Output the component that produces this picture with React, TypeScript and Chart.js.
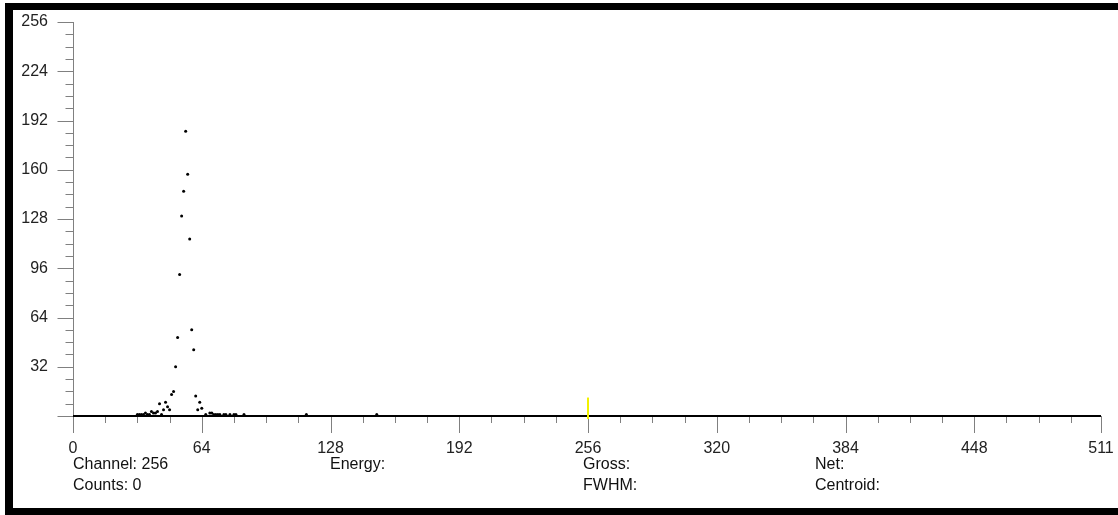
import React, { useEffect, useRef } from "react";
import { Chart, registerables } from "chart.js";
Chart.register(...registerables);

// Spectrum data (non-zero channels only)
const channels = [32, 33, 34, 35, 36, 37, 38, 39, 40, 41, 42, 43, 44, 45, 46, 47, 48, 49, 50, 51, 52, 53, 54, 55, 56, 57, 58, 59, 60, 61, 62, 63, 64, 66, 68, 69, 70, 71, 72, 73, 75, 76, 78, 80, 81, 85, 116, 151];
const counts = [1, 1, 1, 1, 2, 1, 1, 3, 2, 2, 3, 8, 1, 4, 9, 6, 4, 14, 16, 32, 51, 92, 130, 146, 185, 157, 115, 56, 43, 13, 4, 9, 5, 1, 2, 2, 1, 1, 1, 1, 1, 1, 1, 1, 1, 1, 1, 1];

const cursorChannel = 256;
const cursorSpan = [-2, 12];

const xLabelTicks = [0, 64, 128, 192, 256, 320, 384, 448, 511];
const xMinorTicks = [16, 32, 48, 80, 96, 112, 144, 160, 176, 208, 224, 240, 272, 288, 304, 336, 352, 368, 400, 416, 432, 464, 480, 496];
const yLabelTicks = [32, 64, 96, 128, 160, 192, 224, 256];
const yMajorTicks = [0, 32, 64, 96, 128, 160, 192, 224, 256];
const yMinorTicks = [8, 16, 24, 40, 48, 56, 72, 80, 88, 104, 112, 120, 136, 144, 152, 168, 176, 184, 200, 208, 216, 232, 240, 248];

const statusLeft = [
  { text: "Channel: 256", x: 73, y: 456 },
  { text: "Counts: 0", x: 73, y: 477 },
  { text: "Energy:", x: 330, y: 456 },
  { text: "Gross:", x: 583, y: 456 },
  { text: "FWHM:", x: 583, y: 477 },
  { text: "Net:", x: 815, y: 456 },
  { text: "Centroid:", x: 815, y: 477 },
];

const FONT = "'Liberation Sans', Arial, sans-serif";

const axesPlugin = {
  id: "customAxes",
  beforeDatasetsDraw(chart: any) {
    const { ctx, chartArea } = chart;
    const xs = chart.scales.x;
    const ys = chart.scales.y;
    ctx.save();
    ctx.strokeStyle = "#808080";
    ctx.lineWidth = 1;
    ctx.beginPath();
    const ax = Math.round(chartArea.left) + 0.5;
    ctx.moveTo(ax, ys.getPixelForValue(256));
    ctx.lineTo(ax, chartArea.bottom);
    for (const v of yMajorTicks) {
      const py = Math.round(ys.getPixelForValue(v)) + 0.5;
      ctx.moveTo(ax - 16, py);
      ctx.lineTo(ax, py);
    }
    for (const v of yMinorTicks) {
      const py = Math.round(ys.getPixelForValue(v)) + 0.5;
      ctx.moveTo(ax - 8, py);
      ctx.lineTo(ax, py);
    }
    const by = Math.round(chartArea.bottom);
    for (const v of xLabelTicks) {
      const px = Math.round(xs.getPixelForValue(v)) + 0.5;
      ctx.moveTo(px, by);
      ctx.lineTo(px, by + 17);
    }
    for (const v of xMinorTicks) {
      const px = Math.round(xs.getPixelForValue(v)) + 0.5;
      ctx.moveTo(px, by);
      ctx.lineTo(px, by + 7);
    }
    ctx.stroke();
    ctx.strokeStyle = "#000";
    ctx.lineWidth = 2;
    ctx.beginPath();
    ctx.moveTo(xs.getPixelForValue(0), by);
    ctx.lineTo(xs.getPixelForValue(511), by);
    ctx.stroke();
    ctx.restore();
  },
};

const zeroOverflow = (s: any) => {
  s.paddingTop = 0;
  s.paddingBottom = 0;
  s.paddingLeft = 0;
  s.paddingRight = 0;
};

export default function App() {
  const ref = useRef<HTMLCanvasElement | null>(null);
  useEffect(() => {
    if (!ref.current) return;
    const points = channels.map((c, i) => ({ x: c, y: counts[i] }));
    const chart = new Chart(ref.current, {
      type: "scatter",
      data: {
        datasets: [
          {
            label: "Counts",
            data: points,
            backgroundColor: "#000",
            borderColor: "#000",
            borderWidth: 0,
            pointRadius: 1.5,
            pointHoverRadius: 1.5,
          },
          {
            type: "line",
            label: "Cursor",
            data: [
              { x: cursorChannel, y: cursorSpan[0] },
              { x: cursorChannel, y: cursorSpan[1] },
            ],
            borderColor: "#f2f200",
            borderWidth: 2,
            pointRadius: 0,
            clip: false,
          } as any,
        ],
      },
      options: {
        responsive: false,
        animation: false,
        devicePixelRatio: 1,
        layout: { padding: { top: 12, right: 17, bottom: 0, left: 0 } },
        plugins: { legend: { display: false }, tooltip: { enabled: false } },
        events: [],
        scales: {
          x: {
            type: "linear",
            min: 0,
            max: 511,
            grid: { display: false, drawTicks: false },
            border: { display: false },
            afterBuildTicks: (s: any) => {
              s.ticks = xLabelTicks.map((v) => ({ value: v }));
            },
            afterFit: (s: any) => {
              s.height = 92;
              zeroOverflow(s);
            },
            ticks: {
              color: "#222",
              font: { family: FONT, size: 16 },
              padding: 23,
              maxRotation: 0,
              autoSkip: false,
              callback: (v: any) => String(v),
            },
          },
          y: {
            type: "linear",
            min: 0,
            max: 256,
            grid: { display: false, drawTicks: false },
            border: { display: false },
            afterBuildTicks: (s: any) => {
              s.ticks = yLabelTicks.map((v) => ({ value: v }));
            },
            afterFit: (s: any) => {
              s.width = 60;
              zeroOverflow(s);
            },
            ticks: {
              color: "#222",
              font: { family: FONT, size: 16 },
              padding: 25,
              autoSkip: false,
              callback: (v: any) => String(v),
            },
          },
        },
      },
      plugins: [axesPlugin],
    });
    return () => chart.destroy();
  }, []);

  return (
    <div style={{ position: "fixed", left: 0, top: 0, width: 1118, height: 515, background: "#fff", overflow: "hidden" }}>
      <div
        style={{
          position: "absolute",
          left: 5,
          top: 3,
          width: 1200,
          height: 512,
          boxSizing: "border-box",
          borderLeft: "8px solid #000",
          borderTop: "7px solid #000",
          borderBottom: "7px solid #000",
        }}
      />
      <canvas ref={ref} width={1105} height={498} style={{ position: "absolute", left: 13, top: 10, width: 1105, height: 498 }} />
      {statusLeft.map((s) => (
        <div
          key={s.text}
          style={{ position: "absolute", left: s.x, top: s.y, font: `16px ${FONT}`, lineHeight: "16px", color: "#111", whiteSpace: "nowrap" }}
        >
          {s.text}
        </div>
      ))}
    </div>
  );
}
